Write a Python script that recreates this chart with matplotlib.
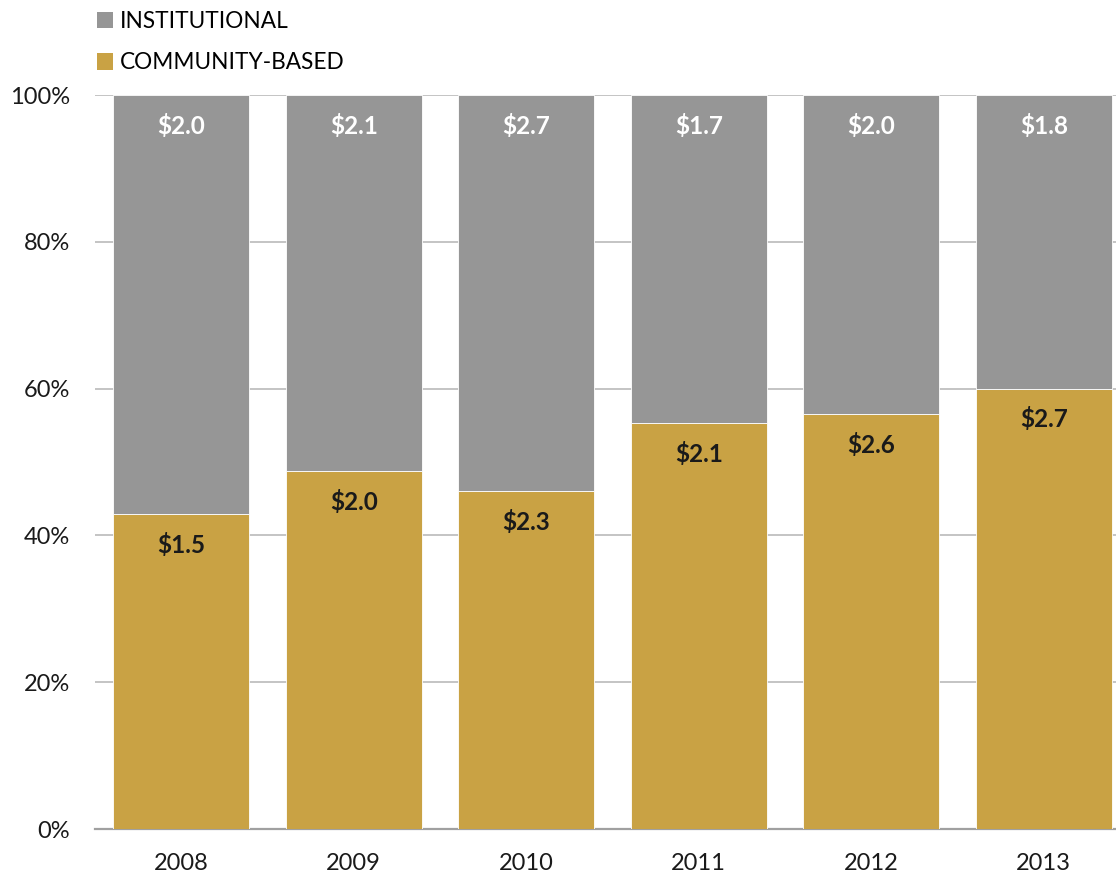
import matplotlib.pyplot as plt
from matplotlib.patches import Patch
import numpy as np

plt.rcParams['font.family'] = ['Lato', 'DejaVu Sans']

years = ["2008", "2009", "2010", "2011", "2012", "2013"]
community = [1.5, 2.0, 2.3, 2.1, 2.6, 2.7]       # $ billions, community-based
institutional = [2.0, 2.1, 2.7, 1.7, 2.0, 1.8]   # $ billions, institutional
series_names = ["INSTITUTIONAL", "COMMUNITY-BASED"]

GOLD = "#C9A244"
GRAY = "#969696"

comm = np.array(community)
inst = np.array(institutional)
total = comm + inst
comm_pct = comm / total * 100
inst_pct = inst / total * 100

fig = plt.figure(figsize=(11.16, 8.75), dpi=100)
ax = fig.add_axes([95 / 1116, (875 - 829) / 875, (1130 - 95) / 1116, (829 - 95) / 875])

x = np.arange(len(years))
w = 0.79
ax.bar(x, comm_pct, width=w, color=GOLD, edgecolor="white", linewidth=0.6, zorder=3)
ax.bar(x, inst_pct, width=w, bottom=comm_pct, color=GRAY, edgecolor="white", linewidth=0.6, zorder=3)

for xi, cp, cv, iv in zip(x, comm_pct, comm, inst):
    ax.annotate(f"${iv:.1f}", (xi, 100), xytext=(0, -22), textcoords="offset points",
                ha="center", va="center", color="white", fontsize=17.5, fontweight="bold", zorder=4)
    ax.annotate(f"${cv:.1f}", (xi, cp), xytext=(0, -22), textcoords="offset points",
                ha="center", va="center", color="#1a1a1a", fontsize=17.5, fontweight="bold", zorder=4)

ax.set_xlim(-0.5, len(years) - 0.5)
ax.set_ylim(0, 100)
ax.set_yticks(range(0, 101, 20))
ax.set_yticklabels([f"{v}%" for v in range(0, 101, 20)])
ax.set_xticks(x)
ax.set_xticklabels(years)
ax.tick_params(axis="both", length=0, labelsize=17, colors="#1a1a1a")
ax.tick_params(axis="y", pad=18)
ax.tick_params(axis="x", pad=17)
ax.yaxis.grid(True, color="#BFBFBF", linewidth=1.3, zorder=0)
ax.set_axisbelow(True)
for s in ["top", "right", "left"]:
    ax.spines[s].set_visible(False)
ax.spines["bottom"].set_color("#A0A0A0")
ax.spines["bottom"].set_linewidth(1.6)

handles = [Patch(facecolor=GRAY), Patch(facecolor=GOLD)]
fig.legend(handles, series_names, loc="upper left", bbox_to_anchor=(88 / 1116, 1 - 2 / 875),
           frameon=False, fontsize=16.3, handlelength=0.72, handleheight=0.72,
           handletextpad=0.3, labelspacing=0.9, borderaxespad=0)

fig.savefig("out.png", dpi=100)
